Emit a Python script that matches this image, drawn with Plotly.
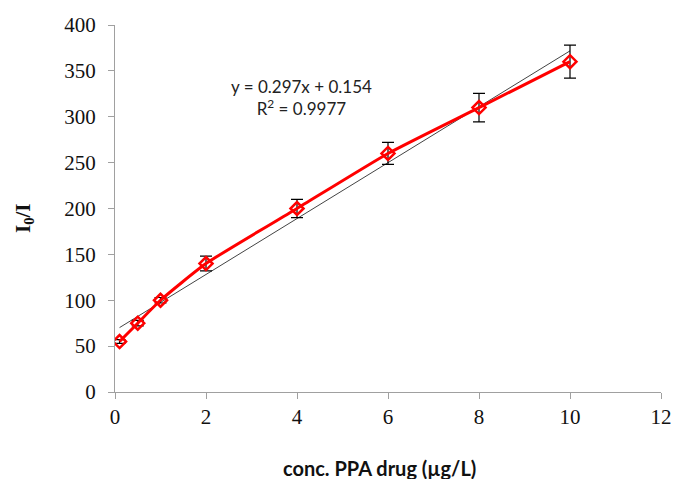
import numpy as np
import plotly.graph_objects as go

conc = [0.1, 0.5, 1, 2, 4, 6, 8, 10]
ratio = [55, 75, 100, 140, 200, 260, 310, 360]
err = [2, 3, 3, 8, 10, 12, 15.5, 18]
x_ticks = [0, 2, 4, 6, 8, 10, 12]
y_ticks = [0, 50, 100, 150, 200, 250, 300, 350, 400]
equation = "y = 0.297x + 0.154"
r2_text = "R<sup>2</sup> = 0.9977"
x_title = "<b>conc. PPA drug (µg/L)</b>"
y_title = "<b>I<sub>0</sub>/I</b>"

slope, intercept = np.polyfit(conc, ratio, 1)
trend_x = [min(conc), max(conc)]
trend_y = [slope * v + intercept for v in trend_x]

L, R, T, B = 115, 12, 25, 87
W, H = 673, 479
pw, ph = W - L - R, H - T - B

def px(xp):
    return (xp - L) / pw

def py(yp):
    return (H - B - yp) / ph

fig = go.Figure()
fig.add_trace(go.Scatter(
    x=trend_x, y=trend_y, mode="lines",
    line=dict(color="#444444", width=1), showlegend=False, hoverinfo="skip"))
fig.add_trace(go.Scatter(
    x=conc, y=ratio, mode="lines+markers",
    line=dict(color="#ff0000", width=3, shape="spline", smoothing=0.5),
    marker=dict(symbol="diamond-open", size=10, color="#ff0000", line=dict(width=2.5, color="#ff0000")),
    error_y=dict(type="data", array=err, visible=True, color="black", thickness=1.2, width=6),
    showlegend=False))

fig.add_annotation(
    xref="paper", yref="paper", x=px(301), y=py(97),
    text=equation + "<br>" + r2_text, showarrow=False,
    font=dict(family="Lato, Liberation Sans", size=17, color="#222222"),
    align="center", xanchor="center", yanchor="middle")
fig.add_annotation(
    xref="paper", yref="paper", x=px(379), y=py(468),
    text=x_title, showarrow=False,
    font=dict(family="Lato, Liberation Sans", size=20, color="#111111"),
    xanchor="center", yanchor="middle")
fig.add_annotation(
    xref="paper", yref="paper", x=px(24), y=py(218),
    text=y_title, showarrow=False, textangle=-90,
    font=dict(family="Liberation Serif, Times New Roman", size=21, color="#111111"),
    xanchor="center", yanchor="middle")

axis_common = dict(
    showgrid=False, zeroline=False, automargin=False,
    showline=True, linecolor="#a0a0a0", linewidth=1,
    ticks="outside", ticklen=6, tickcolor="#a0a0a0",
    tickfont=dict(family="Liberation Serif, Times New Roman", size=21, color="#111111"))

fig.update_layout(
    width=W, height=H,
    margin=dict(l=L, r=R, t=T, b=B, autoexpand=False),
    plot_bgcolor="white", paper_bgcolor="white",
    xaxis=dict(range=[0, 12], tickvals=x_ticks, **axis_common),
    yaxis=dict(range=[0, 400], tickvals=y_ticks, ticklabelstandoff=8, **axis_common),
)

fig.write_html("out.html")
